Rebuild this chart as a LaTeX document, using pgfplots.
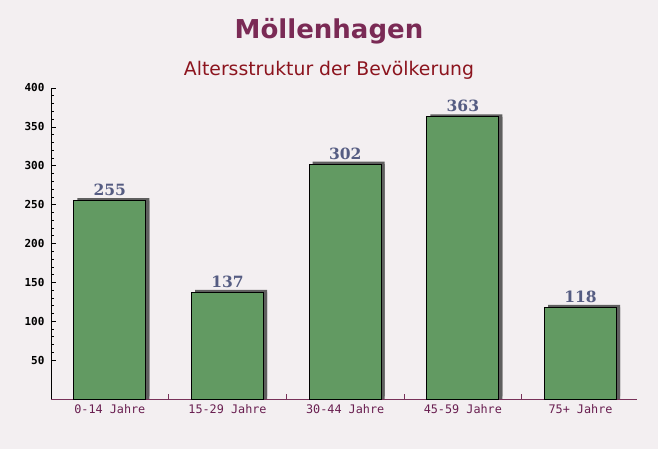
\documentclass[border=0pt]{standalone}
\usepackage{pgfplots}
\pgfplotsset{compat=1.18}
\usepackage{fontspec}
\setmainfont{DejaVu Sans}
\newfontfamily\monof{DejaVu Sans Mono}
\newfontfamily\seriff{DejaVu Serif}
\definecolor{bgc}{RGB}{243,239,241}
\definecolor{titlec}{RGB}{122,42,85}
\definecolor{subc}{RGB}{140,20,30}
\definecolor{barc}{RGB}{98,154,98}
\definecolor{shadowc}{RGB}{95,95,95}
\definecolor{valc}{RGB}{85,92,130}
\definecolor{xlabc}{RGB}{105,30,80}
\definecolor{xaxc}{RGB}{120,50,90}
\begin{document}
\begin{tikzpicture}[x=1pt,y=1pt]
\fill[bgc] (0,0) rectangle (658,449);
\node[font=\bfseries\fontsize{26}{30}\selectfont, text=titlec] at (329,418) {Möllenhagen};
\node[font=\fontsize{18.8}{22}\selectfont, text=subc] at (329,379) {Altersstruktur der Bevölkerung};
\begin{axis}[
  at={(51pt,50pt)}, anchor=south west,
  scale only axis, width=586pt, height=311pt,
  xmin=-0.5, xmax=4.48, ymin=0, ymax=400,
  axis lines*=left,
  x axis line style={draw=xaxc, line width=0.8pt},
  y axis line style={draw=black, line width=0.8pt},
  ytick={50,100,...,400},
  minor y tick num=4,
  tick align=inside,
  major tick length=5pt, minor tick length=3pt,
  every tick/.style={black, line width=0.6pt},
  yticklabel style={font=\monof\bfseries\fontsize{11}{13}\selectfont, text=black, xshift=-3pt},
  /pgf/number format/assume math mode=true,
  xtick={0,1,2,3,4},
  xticklabels={0-14 Jahre,15-29 Jahre,30-44 Jahre,45-59 Jahre,75+ Jahre},
  xticklabel style={font=\monof\fontsize{11.8}{13}\selectfont, text=xlabc, yshift=-2pt},
  major x tick style={draw=none},
  extra x ticks={0.5,1.5,2.5,3.5},
  extra x tick labels={},
  extra x tick style={major x tick style={draw=xaxc, line width=0.6pt}, major tick length=5pt},
  axis background/.style={fill=none},
  clip=false,
]
\addplot[ybar, bar width=72pt, bar shift=0pt, fill=barc, draw=black, line width=0.8pt,
  preaction={fill=shadowc, draw=none, transform canvas={xshift=3.5pt, yshift=2.5pt}},
  preaction={fill=shadowc, draw=none, transform canvas={xshift=3.5pt}},
  nodes near coords,
  every node near coord/.append style={font=\seriff\bfseries\fontsize{15.5}{18}\selectfont, text=valc, yshift=1pt},
] coordinates {(0,255) (1,137) (2,302) (3,363) (4,118)};
\end{axis}
\end{tikzpicture}
\end{document}
